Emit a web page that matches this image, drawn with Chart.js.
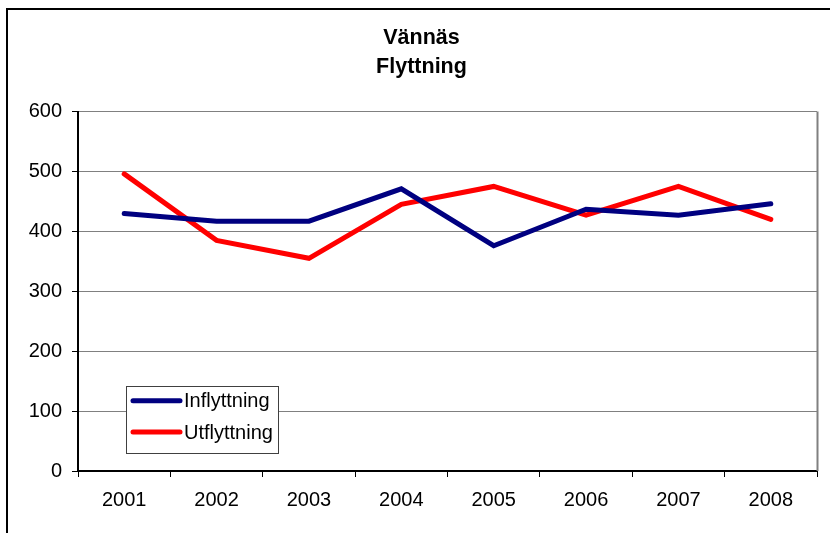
<!DOCTYPE html>
<html><head><meta charset="utf-8">
<script src="https://cdn.jsdelivr.net/npm/chart.js@4"></script>
<style>html,body{margin:0;padding:0;background:#fff;}#wrap{width:830px;height:533px;position:relative;}</style>
</head><body><div id="wrap"><canvas id="c" width="830" height="533"></canvas></div>
<script>
const years = ['2001','2002','2003','2004','2005','2006','2007','2008'];
const inflyttning = [430, 417, 417, 471, 376, 437, 427, 446];
const utflyttning = [496, 385, 355, 445, 475, 427, 475, 420];
const titleLines = ['Vännäs', 'Flyttning'];
const seriesNames = ['Inflyttning', 'Utflyttning'];

const FONT = "'Liberation Sans', Arial, sans-serif";

const framePlugin = {
  id: 'frame',
  beforeDraw(chart) {
    const ctx = chart.ctx;
    ctx.save();
    ctx.fillStyle = '#fff';
    ctx.fillRect(0, 0, chart.width, chart.height);
    ctx.fillStyle = '#000';
    ctx.fillRect(6, 8, 2, 700);
    ctx.fillRect(6, 8, 1000, 2);
    ctx.restore();
  },
  afterDatasetsDraw(chart) {
    const ctx = chart.ctx, a = chart.chartArea;
    ctx.save();
    ctx.strokeStyle = '#808080';
    ctx.lineWidth = 2;
    ctx.beginPath();
    ctx.moveTo(a.right + 0.5, a.top);
    ctx.lineTo(a.right + 0.5, a.bottom);
    ctx.stroke();
    // legend box
    const bx = 126, by = 386, bw = 152, bh = 67;
    ctx.fillStyle = '#fff';
    ctx.fillRect(bx, by, bw, bh);
    ctx.strokeStyle = '#404040';
    ctx.lineWidth = 1;
    ctx.strokeRect(bx + 0.5, by + 0.5, bw, bh);
    const rows = [400.7, 432];
    chart.data.datasets.forEach((ds, i) => {
      ctx.strokeStyle = ds.borderColor;
      ctx.lineWidth = 5;
      ctx.lineCap = 'round';
      ctx.beginPath();
      ctx.moveTo(133, rows[i]);
      ctx.lineTo(180, rows[i]);
      ctx.stroke();
      ctx.fillStyle = '#000';
      ctx.font = '20px ' + FONT;
      ctx.textBaseline = 'middle';
      ctx.textAlign = 'left';
      ctx.fillText(ds.label, 184, rows[i] + 1);
    });
    ctx.restore();
  }
};

new Chart(document.getElementById('c'), {
  type: 'line',
  data: {
    labels: years,
    datasets: [
      { label: seriesNames[0], data: inflyttning, borderColor: '#000080', backgroundColor: '#000080',
        borderWidth: 5, pointRadius: 0, borderCapStyle: 'round', tension: 0 },
      { label: seriesNames[1], data: utflyttning, borderColor: '#FF0000', backgroundColor: '#FF0000',
        borderWidth: 5, pointRadius: 0, borderCapStyle: 'round', tension: 0 }
    ]
  },
  options: {
    responsive: false,
    animation: false,
    layout: { padding: { left: 13, right: 0, top: 0, bottom: 0 } },
    plugins: {
      legend: { display: false },
      tooltip: { enabled: false },
      title: {
        display: true,
        text: titleLines,
        color: '#000',
        font: { family: FONT, size: 21.5, weight: 'bold', lineHeight: 1.35 },
        padding: { top: 24, bottom: 29.5 }
      }
    },
    scales: {
      x: {
        offset: true,
        grid: { offset: true, drawOnChartArea: false, drawTicks: true, tickLength: 6, tickColor: '#000', lineWidth: 1 },
        border: { color: '#000', width: 2 },
        ticks: { color: '#000', font: { family: FONT, size: 20 }, padding: 11, maxRotation: 0 },
        afterFit(s) { s.height = 62; }
      },
      y: {
        min: 0, max: 600,
        grid: { color: '#808080', lineWidth: 1, tickLength: 6, tickColor: '#000', drawTicks: true },
        border: { color: '#000', width: 2 },
        ticks: { stepSize: 100, color: '#000', font: { family: FONT, size: 20 }, padding: 10 },
        afterFit(s) { s.width = 65; }
      },
      yRight: {
        position: 'right',
        min: 0, max: 600,
        grid: { display: false, drawOnChartArea: false },
        border: { display: false },
        ticks: { display: false },
        afterFit(s) { s.width = 13; }
      }
    }
  },
  plugins: [framePlugin]
});
</script>
</body></html>
